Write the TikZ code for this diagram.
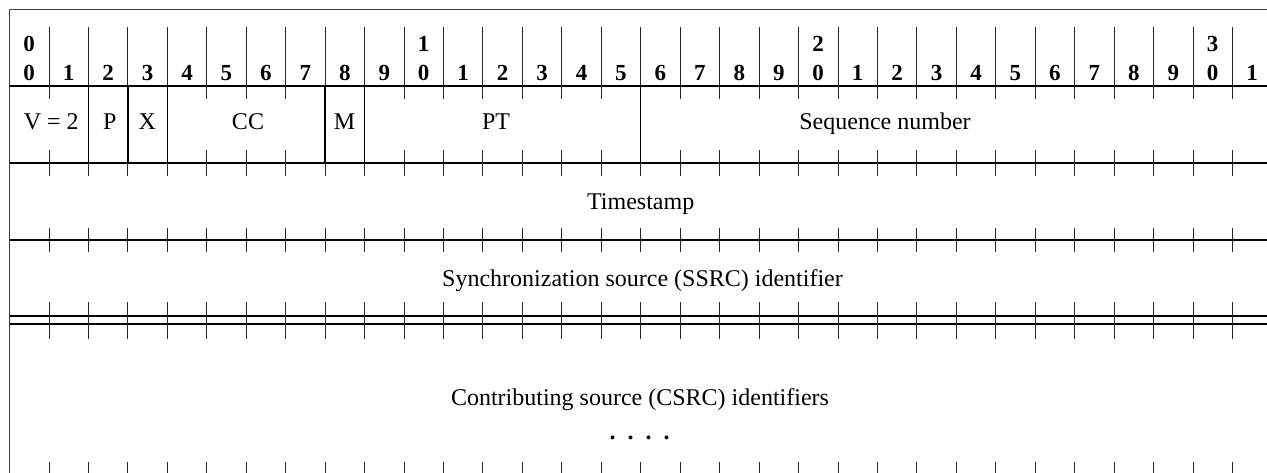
\documentclass[tikz,border=0pt]{standalone}
\usepackage{fontspec}
\setmainfont{Liberation Serif}
\begin{document}
\begin{tikzpicture}[x=1pt,y=-1pt,
  rule/.style={line width=1.4pt},
  fieldsep/.style={line width=1.3pt},
  tickline/.style={line width=0.9pt, black!85},
  frame/.style={line width=1.1pt, black!75},
  lbl/.style={font=\fontsize{24}{28}\selectfont, inner sep=0pt, anchor=base},
  bit/.style={font=\fontsize{23}{27}\selectfont\bfseries, inner sep=0pt, anchor=base}]
\useasboundingbox (0,0) rectangle (1267,473);
% column position of bit boundary k
\def\cx#1{9.5+39.45*(#1)}
% outer frame (top and left edges)
\draw[frame] (1267,9.5) -- (9.5,9.5) -- (9.5,473);
% header: column dividers
\foreach \k in {1,...,31}
  \draw[tickline] ({\cx{\k}},27) -- ({\cx{\k}},86);
% bit numbers
\foreach \k in {0,...,31} {
  \pgfmathtruncatemacro\d{mod(\k,10)}
  \node[bit] (b\k) at ({\cx{\k+0.5}},81) {\d};
}
\foreach \t in {0,1,2,3}
  \node[bit] (tens\t) at ({\cx{10*\t+0.5}},51.7) {\t};
% word boundaries
\foreach \y in {86,163,240,316,324}
  \draw[rule] (9.5,\y) -- (1267,\y);
% tick marks at every bit boundary
\foreach \k in {1,...,31} {
  \draw[tickline] ({\cx{\k}},86) -- ({\cx{\k}},99.5);
  \draw[tickline] ({\cx{\k}},150) -- ({\cx{\k}},176.5);
  \draw[tickline] ({\cx{\k}},228) -- ({\cx{\k}},252);
  \draw[tickline] ({\cx{\k}},302) -- ({\cx{\k}},339);
  \draw[tickline] ({\cx{\k}},461.5) -- ({\cx{\k}},473);
}
% field separators of the first word
\foreach \k in {2,3,4,8,9,16}
  \draw[fieldsep] ({\cx{\k}},86) -- ({\cx{\k}},163);
% field names
\node[lbl] (v)   at (51.3,130) {V = 2};
\node[lbl] (p)   at (109.7,130) {P};
\node[lbl] (x)   at (147.3,130) {X};
\node[lbl] (cc)  at (248,130) {CC};
\node[lbl] (m)   at (344.5,130) {M};
\node[lbl] (pt)  at (496,130) {PT};
\node[lbl] (seq) at (885,130) {Sequence number};
\node[lbl] (ts)  at (640.7,210) {Timestamp};
\node[lbl] (ssrc) at (642.5,286.7) {Synchronization source (SSRC) identifier};
\node[lbl] (csrc) at (640,405) {Contributing source (CSRC) identifiers};
\node[lbl, font=\fontsize{24}{28}\selectfont\bfseries] (dots) at (639.5,439)
  {.\hspace{12pt}.\hspace{12pt}.\hspace{12pt}.};
\end{tikzpicture}
\end{document}
